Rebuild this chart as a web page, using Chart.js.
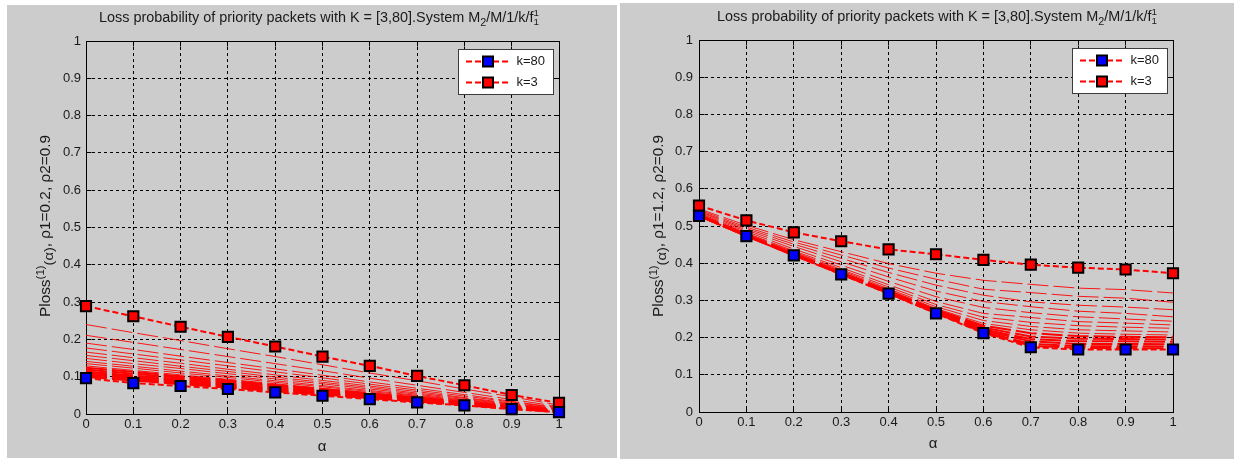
<!DOCTYPE html>
<html><head><meta charset="utf-8">
<script src="https://cdn.jsdelivr.net/npm/chart.js@4.4.1/dist/chart.umd.min.js"></script>
<style>
html,body{margin:0;padding:0;background:#fff;width:1234px;height:459px;overflow:hidden;position:relative}
.panel{position:absolute;background:#cccccc}
canvas{position:absolute;top:0}
</style></head><body>
<div class="panel" style="left:7px;top:5px;width:610px;height:453px"></div>
<div class="panel" style="left:620px;top:3px;width:614px;height:456px"></div>
<canvas id="c1" width="617" height="459" style="left:0"></canvas>
<canvas id="c2" width="617" height="459" style="left:617px"></canvas>
<script>
// ---------- data ----------
const alpha = [0,0.1,0.2,0.3,0.4,0.5,0.6,0.7,0.8,0.9,1];
const xTickLabels = ['0','0.1','0.2','0.3','0.4','0.5','0.6','0.7','0.8','0.9','1'];
const yTickLabels = ['0','0.1','0.2','0.3','0.4','0.5','0.6','0.7','0.8','0.9','1'];
const legendLabels = ['k=80','k=3'];

// left panel: rho1=0.2, rho2=0.9
const leftK80 = [0.096,0.083,0.075,0.067,0.058,0.049,0.040,0.031,0.023,0.013,0.005];
const leftK3  = [0.289,0.262,0.234,0.207,0.181,0.154,0.129,0.102,0.077,0.051,0.030];
const leftMid = [
 [0.240,0.218,0.197,0.175,0.154,0.132,0.110,0.089,0.067,0.046,0.024],
 [0.211,0.192,0.173,0.154,0.135,0.116,0.096,0.077,0.058,0.039,0.020],
 [0.190,0.173,0.155,0.138,0.121,0.104,0.086,0.069,0.052,0.034,0.017],
 [0.177,0.161,0.145,0.129,0.113,0.097,0.080,0.064,0.048,0.032,0.016],
 [0.166,0.151,0.136,0.120,0.105,0.090,0.075,0.060,0.044,0.029,0.014],
 [0.157,0.143,0.128,0.114,0.099,0.085,0.071,0.056,0.042,0.027,0.013],
 [0.149,0.135,0.122,0.108,0.094,0.081,0.067,0.053,0.039,0.026,0.012],
 [0.141,0.128,0.115,0.102,0.089,0.076,0.063,0.050,0.037,0.024,0.011],
 [0.135,0.123,0.110,0.098,0.085,0.073,0.060,0.048,0.035,0.023,0.010],
 [0.129,0.117,0.105,0.093,0.081,0.069,0.057,0.045,0.033,0.021,0.009]
];
const leftBand = [
 [0.124,0.113,0.101,0.090,0.078,0.067,0.055,0.044,0.032,0.021,0.009],
 [0.119,0.108,0.097,0.086,0.075,0.064,0.052,0.041,0.030,0.019,0.008],
 [0.114,0.103,0.093,0.082,0.071,0.061,0.050,0.039,0.028,0.018,0.007],
 [0.110,0.100,0.089,0.079,0.069,0.059,0.048,0.038,0.028,0.017,0.007],
 [0.106,0.096,0.086,0.076,0.066,0.056,0.046,0.036,0.026,0.016,0.006],
 [0.102,0.092,0.083,0.073,0.064,0.054,0.044,0.035,0.025,0.016,0.006],
 [0.099,0.090,0.080,0.071,0.061,0.052,0.043,0.033,0.024,0.014,0.005]
];

// right panel: rho1=1.2, rho2=0.9
const rightK80 = [0.527,0.473,0.421,0.370,0.318,0.265,0.212,0.174,0.168,0.168,0.168];
const rightK3  = [0.555,0.515,0.483,0.459,0.437,0.424,0.409,0.396,0.388,0.383,0.373];
const rightMid = [
 [0.546,0.502,0.463,0.431,0.399,0.373,0.354,0.343,0.333,0.329,0.320],
 [0.543,0.497,0.457,0.422,0.387,0.357,0.330,0.321,0.311,0.306,0.295],
 [0.540,0.493,0.451,0.413,0.375,0.341,0.314,0.296,0.287,0.282,0.275],
 [0.538,0.489,0.445,0.404,0.363,0.325,0.297,0.283,0.271,0.265,0.256],
 [0.535,0.485,0.438,0.395,0.351,0.310,0.281,0.267,0.256,0.250,0.244],
 [0.533,0.481,0.433,0.388,0.342,0.297,0.265,0.254,0.243,0.239,0.234],
 [0.531,0.479,0.430,0.383,0.336,0.289,0.255,0.241,0.232,0.228,0.225],
 [0.530,0.478,0.428,0.380,0.331,0.283,0.246,0.230,0.221,0.218,0.215],
 [0.529,0.476,0.426,0.377,0.328,0.278,0.238,0.221,0.212,0.209,0.207]
];
const rightBand = [
 [0.529,0.476,0.425,0.375,0.325,0.275,0.232,0.212,0.204,0.202,0.201],
 [0.528,0.475,0.424,0.374,0.323,0.272,0.227,0.203,0.197,0.196,0.195],
 [0.528,0.474,0.423,0.373,0.322,0.270,0.222,0.196,0.190,0.190,0.189],
 [0.528,0.474,0.422,0.372,0.320,0.268,0.219,0.190,0.183,0.183,0.182],
 [0.527,0.473,0.422,0.371,0.319,0.267,0.216,0.183,0.177,0.177,0.176],
 [0.527,0.473,0.421,0.371,0.319,0.266,0.214,0.178,0.172,0.172,0.171]
];

const titleText = ['Loss probability of priority packets with K = [3,80].System M','2','/M/1/k/f','1','1'];
const leftYLabel  = ['Ploss','(1)','(\u03b1)',', \u03c11=0.2, \u03c12=0.9'];
const rightYLabel = ['Ploss','(1)','(\u03b1)',', \u03c11=1.2, \u03c12=0.9'];
const xLabelText = '\u03b1';

// ---------- rendering ----------
const FAM = '"Liberation Sans", Arial, Helvetica, sans-serif';
const TXT = '#1a1a1a';
Chart.defaults.font.family = FAM;
Chart.defaults.font.size = 13;

const pts = v => alpha.map((a,i)=>({x:a,y:v[i]}));

function drawRich(ctx, pieces, size, targetW) {
  // pieces: {t, s (size factor), dy (em, +down), na (no advance)}
  let w = 0;
  pieces.forEach(p=>{ctx.font = (size*(p.s||1))+'px '+FAM; p.w = ctx.measureText(p.t).width; if(!p.na) w += p.w;});
  const k = targetW / w;
  ctx.scale(k,1);
  let cx = -w/2;
  pieces.forEach(p=>{ctx.font = (size*(p.s||1))+'px '+FAM; ctx.fillText(p.t, cx, (p.dy||0)*size); if(!p.na) cx += p.w;});
}

function makeChart(id, P) {
  const datasets = [];
  const markerDs = (label, vals, fill) => ({
    label, data: pts(vals), borderColor:'#ff0000', borderWidth:2, borderDash:[6,3],
    pointStyle:'rect', pointRadius:7.2, pointBackgroundColor:fill, pointBorderColor:'#000',
    pointBorderWidth:2, clip:false, tension:0
  });
  datasets.push(markerDs(legendLabels[0], P.k80, '#0000ff'));
  datasets.push(markerDs(legendLabels[1], P.k3, '#ff0000'));
  P.band.forEach(v=>datasets.push({data:pts(v), borderColor:'#ff0000', borderWidth:2, borderDash:[21,5], pointRadius:0, tension:0}));
  P.mid.forEach(v=>datasets.push({data:pts(v), borderColor:'rgba(255,0,0,0.9)', borderWidth:1, borderDash:[21,5], pointRadius:0, tension:0}));

  const frame = {
    id:'frame',
    beforeDatasetsDraw(chart){
      const {ctx, chartArea:a, scales:{x,y}} = chart;
      const al = p => Math.round(p-0.5)+0.5;
      const L=al(a.left), R=al(a.right), T=al(a.top), B=al(a.bottom);
      ctx.save();
      ctx.setLineDash([]); ctx.strokeStyle='#000'; ctx.lineWidth=1;
      ctx.beginPath();
      x.ticks.forEach(t=>{const px=al(x.getPixelForValue(t.value)); ctx.moveTo(px,B); ctx.lineTo(px,B-5); ctx.moveTo(px,T); ctx.lineTo(px,T+5);});
      y.ticks.forEach(t=>{const py=al(y.getPixelForValue(t.value)); ctx.moveTo(L,py); ctx.lineTo(L+5,py); ctx.moveTo(R,py); ctx.lineTo(R-5,py);});
      ctx.stroke();
      ctx.strokeRect(L,T,R-L,B-T);
      ctx.restore();
    },
    afterDatasetsDraw(chart){
      const {ctx, chartArea:a} = chart;
      const bw=95, bh=45;
      const bx=Math.round(a.right-6-bw), by=Math.round(a.top+8);
      ctx.save();
      ctx.fillStyle='#fff'; ctx.fillRect(bx,by,bw,bh);
      ctx.strokeStyle='#3c3c3c'; ctx.lineWidth=1; ctx.strokeRect(bx+0.5,by+0.5,bw,bh);
      const rows=[{dy:12,fill:'#0000ff',t:legendLabels[0]},{dy:32.7,fill:'#ff0000',t:legendLabels[1]}];
      rows.forEach(r=>{
        const yy=Math.round(by+r.dy)+0.5;
        ctx.strokeStyle='#ff0000'; ctx.lineWidth=2; ctx.setLineDash([6,3]);
        ctx.beginPath(); ctx.moveTo(bx+8,yy); ctx.lineTo(bx+50,yy); ctx.stroke();
        ctx.setLineDash([]);
        ctx.fillStyle=r.fill; ctx.strokeStyle='#000'; ctx.lineWidth=2;
        ctx.fillRect(bx+25,yy-5,10,10); ctx.strokeRect(bx+25,yy-5,10,10);
        ctx.fillStyle=TXT; ctx.font='13px '+FAM; ctx.textBaseline='middle'; ctx.textAlign='left';
        ctx.fillText(r.t,bx+58.4,yy);
      });
      ctx.restore();
    },
    afterDraw(chart){
      const {ctx} = chart;
      ctx.save();
      ctx.fillStyle=TXT; ctx.textBaseline='alphabetic'; ctx.textAlign='left';
      // title
      ctx.save(); ctx.translate(P.titleX, P.titleY);
      drawRich(ctx,[{t:titleText[0]},{t:titleText[1],s:0.75,dy:0.3},{t:titleText[2]},{t:titleText[3],s:0.68,dy:-0.45,na:true},{t:titleText[4],s:0.68,dy:0.2}],14,440);
      ctx.restore();
      // y label
      ctx.save(); ctx.translate(P.ylabX, P.ylabY); ctx.rotate(-Math.PI/2);
      const yl=P.ylab;
      drawRich(ctx,[{t:yl[0]},{t:yl[1],s:0.75,dy:-0.4},{t:yl[2],s:0.95,dy:0.18},{t:yl[3]}],14,182);
      ctx.restore();
      // x label
      ctx.font='15px '+FAM; ctx.textAlign='center';
      ctx.fillText(xLabelText, P.xlabX, P.xlabY);
      ctx.restore();
    }
  };

  const tickFont={size:13, family:FAM};
  new Chart(document.getElementById(id), {
    type:'line',
    data:{datasets},
    options:{
      responsive:false, animation:false, events:[],
      layout:{padding:{left:0,right:P.padR,top:P.top,bottom:0}},
      plugins:{legend:{display:false}, tooltip:{enabled:false}, title:{display:false}},
      scales:{
        x:{type:'linear',min:0,max:1,
           ticks:{stepSize:0.1,padding:3,color:TXT,font:tickFont,maxRotation:0,autoSkip:false,callback:(v,i)=>xTickLabels[i]},
           grid:{color:'#000',lineWidth:1,drawTicks:false},
           border:{display:false,dash:[3,3]},
           afterFit(s){s.height=P.xh;}},
        y:{type:'linear',min:0,max:1,
           ticks:{stepSize:0.1,padding:P.ypad,color:TXT,font:tickFont,autoSkip:false,callback:(v,i)=>yTickLabels[i]},
           grid:{color:'#000',lineWidth:1,drawTicks:false},
           border:{display:false,dash:[3,3]},
           afterFit(s){s.width=P.yw;}}
      }
    },
    plugins:[frame]
  });
}

makeChart('c1',{k80:leftK80,k3:leftK3,mid:leftMid,band:leftBand,
  padR:58, top:41, xh:45, yw:86, ypad:5,
  titleX:319, titleY:22, ylabX:50, ylabY:226, ylab:leftYLabel, xlabX:322, xlabY:451});
makeChart('c2',{k80:rightK80,k3:rightK3,mid:rightMid,band:rightBand,
  padR:61, top:40, xh:47, yw:82, ypad:6,
  titleX:320, titleY:21, ylabX:46, ylabY:226, ylab:rightYLabel, xlabX:316, xlabY:448});
</script>
</body></html>
